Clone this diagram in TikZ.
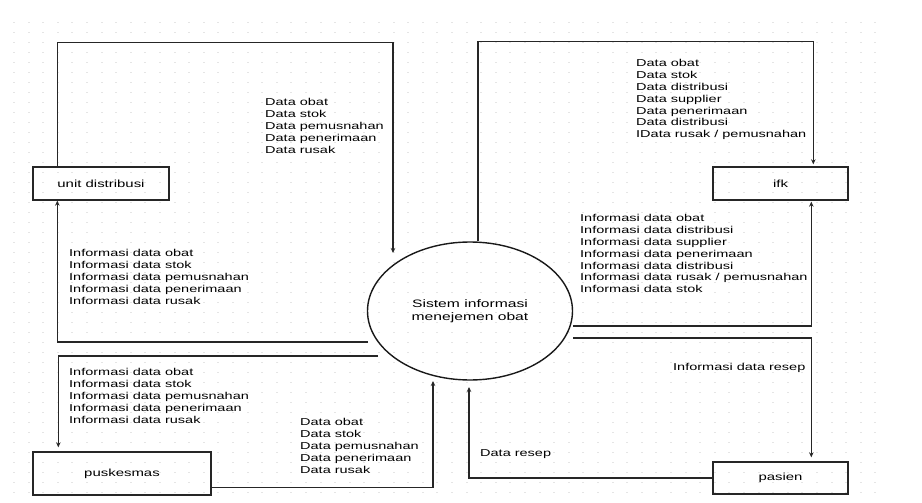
\documentclass[tikz,border=0pt]{standalone}
\usepackage{fontspec}
\setmainfont{Liberation Sans}[FakeStretch=1.45]
\usetikzlibrary{arrows.meta,shapes.geometric}

\tikzset{
  ent/.style={draw=black!85, line width=1.4pt, rectangle, inner sep=0pt,
    font=\fontsize{10.3}{12}\selectfont, text=black},
  proc/.style={draw=black!90, line width=1.4pt, ellipse, inner sep=0pt,
    align=center, font=\fontsize{10.8}{13}\selectfont, text=black},
  lbl/.style={anchor=north west, inner sep=0pt, align=left,
    font=\fontsize{10}{11.8}\selectfont, text=black},
  flow/.style={draw=black!85, line width=1.5pt,
    -{Stealth[length=5pt,width=4.5pt]}},
  griddot/.style={fill=black!10}
}

\begin{document}
\begin{tikzpicture}[x=1pt,y=-1pt]
\useasboundingbox (0,0) rectangle (922,503);

% dotted drawing-board background
\foreach \i in {0,...,59}
  \foreach \j in {0,...,47}
    \fill[griddot] (13+\i*14.6,22+\j*10) rectangle ++(2,1.2);

% external entities and the process
\node[ent, minimum width=136pt, minimum height=33pt] (ud)  at (101,183.5) {unit distribusi};
\node[ent, minimum width=135pt, minimum height=33pt] (ifk) at (780.5,183.5) {ifk};
\node[ent, minimum width=178pt, minimum height=43pt] (pk)  at (122,473.5) {puskesmas};
\node[ent, minimum width=135pt, minimum height=32pt] (ps)  at (780.5,478) {pasien};
\node[proc, minimum width=205pt, minimum height=138pt] (sys) at (470,311)
  {Sistem informasi\\menejemen obat};

% free ends of the flows near the process
\coordinate (udin)   at (393,253);
\coordinate (udout)  at (368,342);
\coordinate (pkout)  at (378,356);
\coordinate (pkin)   at (433,381);
\coordinate (psin)   at (469,387);
\coordinate (psout)  at (573,338);
\coordinate (ifkout) at (573,326);

% data flows
\draw[flow] ([xshift=25pt]ud.north west) -- ++(0,-124) -| (udin);
\draw[flow] (udout) -| ([xshift=25pt]ud.south west);
\draw[flow] (pkout) -| ([xshift=26pt,yshift=4pt]pk.north west);
\draw[flow] ([yshift=8pt]pk.south east) -| (pkin);
\draw[flow] (ps.west) -| (psin);
\draw[flow] (psout) -| ([xshift=99pt,yshift=4pt]ps.north west);
\draw[flow] (ifkout) -| ([xshift=99pt,yshift=-1pt]ifk.south west);
\draw[flow] ([xshift=8pt]sys.north) -- ++(0,-200) -| ([xshift=101pt,yshift=2pt]ifk.north west);

% flow labels
\node[lbl] (l1) at (265,98.4) {Data obat\\Data stok\\Data pemusnahan\\Data penerimaan\\Data rusak};
\node[lbl] (l2) at (636,59.4) {Data obat\\Data stok\\Data distribusi\\Data supplier\\Data penerimaan\\Data distribusi\\IData rusak / pemusnahan};
\node[lbl] (l3) at (580,214.4) {Informasi data obat\\Informasi data distribusi\\Informasi data supplier\\Informasi data penerimaan\\Informasi data distribusi\\Informasi data rusak / pemusnahan\\Informasi data stok};
\node[lbl] (l4) at (69,249.4) {Informasi data obat\\Informasi data stok\\Informasi data pemusnahan\\Informasi data penerimaan\\Informasi data rusak};
\node[lbl] (l5) at (69,368.4) {Informasi data obat\\Informasi data stok\\Informasi data pemusnahan\\Informasi data penerimaan\\Informasi data rusak};
\node[lbl] (l6) at (300,418.4) {Data obat\\Data stok\\Data pemusnahan\\Data penerimaan\\Data rusak};
\node[lbl] (l7) at (673,363.4) {Informasi data resep};
\node[lbl] (l8) at (480,449.4) {Data resep};
\end{tikzpicture}
\end{document}
